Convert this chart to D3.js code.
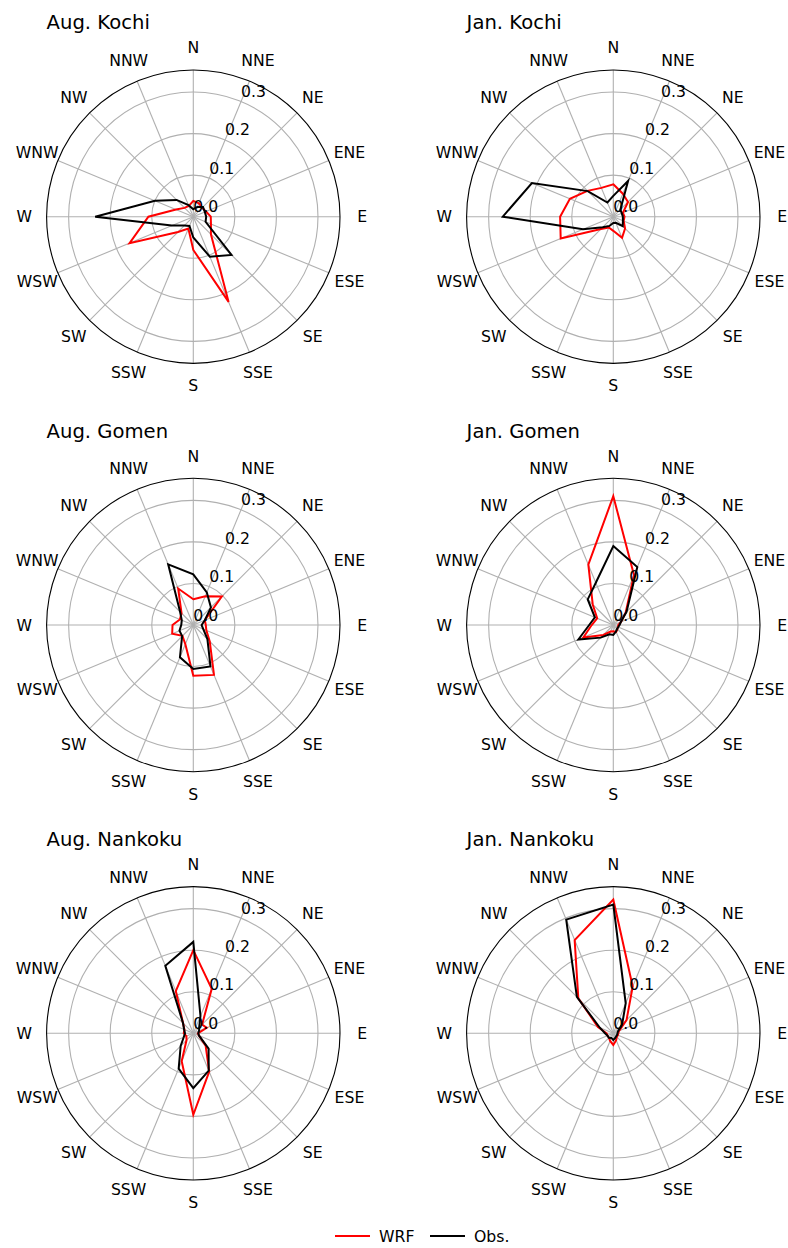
<!DOCTYPE html>
<html>
<head>
<meta charset="utf-8">
<script src="https://cdn.jsdelivr.net/npm/d3@7"></script>
<style>
  body { margin: 0; background: #fff; }
  svg { display: block; font-family: "DejaVu Sans", sans-serif; }
</style>
</head>
<body>
<div id="chart"></div>
<script>
// 16 wind directions, clockwise from north
const directions = ['N','NNE','NE','ENE','E','ESE','SE','SSE','S','SSW','SW','WSW','W','WNW','NW','NNW'];
const radialTicks = [0.0, 0.1, 0.2, 0.3];
const titles = ['Aug. Kochi','Jan. Kochi','Aug. Gomen','Jan. Gomen','Aug. Nankoku','Jan. Nankoku'];

// frequency per direction (WRF = model, Obs. = observation)
const augKochiWRF = [0.038,0.035,0.03,0.033,0.042,0.046,0.06,0.222,0.08,0.031,0.052,0.166,0.108,0.045,0.03,0.028];
const augKochiObs = [0.018,0.025,0.033,0.03,0.031,0.032,0.13,0.104,0.05,0.024,0.03,0.056,0.236,0.1,0.057,0.03];
const janKochiWRF = [0.078,0.06,0.05,0.025,0.027,0.027,0.04,0.055,0.034,0.028,0.042,0.137,0.128,0.113,0.088,0.075];
const janKochiObs = [0.05,0.093,0.024,0.022,0.023,0.025,0.032,0.016,0.015,0.024,0.036,0.079,0.266,0.212,0.087,0.037];
const augGomenWRF = [0.062,0.075,0.097,0.03,0.03,0.034,0.056,0.13,0.122,0.05,0.037,0.055,0.05,0.035,0.04,0.095];
const augGomenObs = [0.122,0.085,0.06,0.03,0.02,0.026,0.048,0.108,0.106,0.084,0.038,0.036,0.029,0.03,0.045,0.158];
const janGomenWRF = [0.31,0.13,0.042,0.02,0.012,0.012,0.014,0.018,0.015,0.017,0.034,0.078,0.052,0.042,0.07,0.157];
const janGomenObs = [0.19,0.151,0.045,0.02,0.015,0.013,0.013,0.017,0.024,0.024,0.043,0.091,0.058,0.048,0.087,0.11];
const augNankokuWRF = [0.2,0.116,0.03,0.035,0.011,0.015,0.042,0.1,0.196,0.073,0.023,0.018,0.023,0.023,0.035,0.11];
const augNankokuObs = [0.22,0.045,0.02,0.015,0.012,0.015,0.052,0.097,0.132,0.092,0.043,0.025,0.02,0.024,0.035,0.176];
const janNankokuWRF = [0.322,0.122,0.045,0.015,0.012,0.012,0.012,0.018,0.028,0.02,0.015,0.015,0.016,0.04,0.119,0.243];
const janNankokuObs = [0.31,0.078,0.03,0.012,0.01,0.01,0.01,0.012,0.016,0.012,0.015,0.015,0.02,0.035,0.124,0.296];

const panels = [
  {title: titles[0], wrf: augKochiWRF, obs: augKochiObs},
  {title: titles[1], wrf: janKochiWRF, obs: janKochiObs},
  {title: titles[2], wrf: augGomenWRF, obs: augGomenObs},
  {title: titles[3], wrf: janGomenWRF, obs: janGomenObs},
  {title: titles[4], wrf: augNankokuWRF, obs: augNankokuObs},
  {title: titles[5], wrf: janNankokuWRF, obs: janNankokuObs}
];

const W = 788, H = 1248;
const R = 146.7;
const colX = [193.3, 613.3];
const rowY = [216.7, 625, 1033.3];
const FONT = 15.7;

const svg = d3.select('#chart').append('svg')
  .attr('width', W)
  .attr('height', H);

const r = d3.scaleLinear().domain([0, 0.353]).range([0, R]);
const theta = d3.scaleBand().domain(directions).range([0, 2 * Math.PI]).padding(0);

const radial = d3.lineRadial()
  .angle((d, i) => theta(directions[i]))
  .radius(d => r(d))
  .curve(d3.curveLinearClosed);

panels.forEach(function (p, k) {
  const cx = colX[k % 2], cy = rowY[Math.floor(k / 2)];
  const g = svg.append('g').attr('transform', 'translate(' + cx + ',' + cy + ')');

  // grid circles
  g.selectAll('circle.grid')
    .data(radialTicks.filter(t => t > 0))
    .join('circle')
    .attr('class', 'grid')
    .attr('r', d => r(d))
    .attr('fill', 'none')
    .attr('stroke', '#b0b0b0')
    .attr('stroke-width', 1.1);

  // spokes
  g.selectAll('line.spoke')
    .data(directions)
    .join('line')
    .attr('class', 'spoke')
    .attr('x1', 0).attr('y1', 0)
    .attr('x2', d => Math.sin(theta(d)) * R)
    .attr('y2', d => -Math.cos(theta(d)) * R)
    .attr('stroke', '#b0b0b0')
    .attr('stroke-width', 1.1);

  // outer frame
  g.append('circle')
    .attr('r', R)
    .attr('fill', 'none')
    .attr('stroke', '#000')
    .attr('stroke-width', 1.1);

  // series
  g.append('path')
    .attr('d', radial(p.wrf))
    .attr('fill', 'none')
    .attr('stroke', 'red')
    .attr('stroke-width', 2);
  g.append('path')
    .attr('d', radial(p.obs))
    .attr('fill', 'none')
    .attr('stroke', '#000')
    .attr('stroke-width', 2);

  // direction labels
  g.selectAll('text.dir')
    .data(directions)
    .join('text')
    .attr('class', 'dir')
    .attr('x', d => Math.sin(theta(d)) * 169)
    .attr('y', d => -Math.cos(theta(d)) * 169)
    .attr('text-anchor', 'middle')
    .attr('dominant-baseline', 'central')
    .attr('font-size', FONT)
    .attr('fill', '#000')
    .text(d => d);

  // radial tick labels along 22.5 deg
  const la = Math.PI / 8;
  g.selectAll('text.rtick')
    .data(radialTicks)
    .join('text')
    .attr('class', 'rtick')
    .attr('x', d => Math.sin(la) * r(d))
    .attr('y', d => -Math.cos(la) * r(d) - 4.5)
    .attr('font-size', FONT)
    .attr('fill', '#000')
    .text(d => d.toFixed(1));

  // title
  g.append('text')
    .attr('x', -R)
    .attr('y', -187.5)
    .attr('font-size', 19.6)
    .attr('fill', '#000')
    .text(p.title);
});

// legend
const legend = svg.append('g').attr('transform', 'translate(0,1236)');
const items = [{name: 'WRF', color: 'red', x: 335}, {name: 'Obs.', color: '#000', x: 430}];
items.forEach(function (it) {
  legend.append('line')
    .attr('x1', it.x).attr('x2', it.x + 35)
    .attr('y1', 0).attr('y2', 0)
    .attr('stroke', it.color)
    .attr('stroke-width', 2);
  legend.append('text')
    .attr('x', it.x + 44)
    .attr('y', 0)
    .attr('dominant-baseline', 'central')
    .attr('font-size', FONT)
    .attr('fill', '#000')
    .text(it.name);
});
</script>
</body>
</html>
